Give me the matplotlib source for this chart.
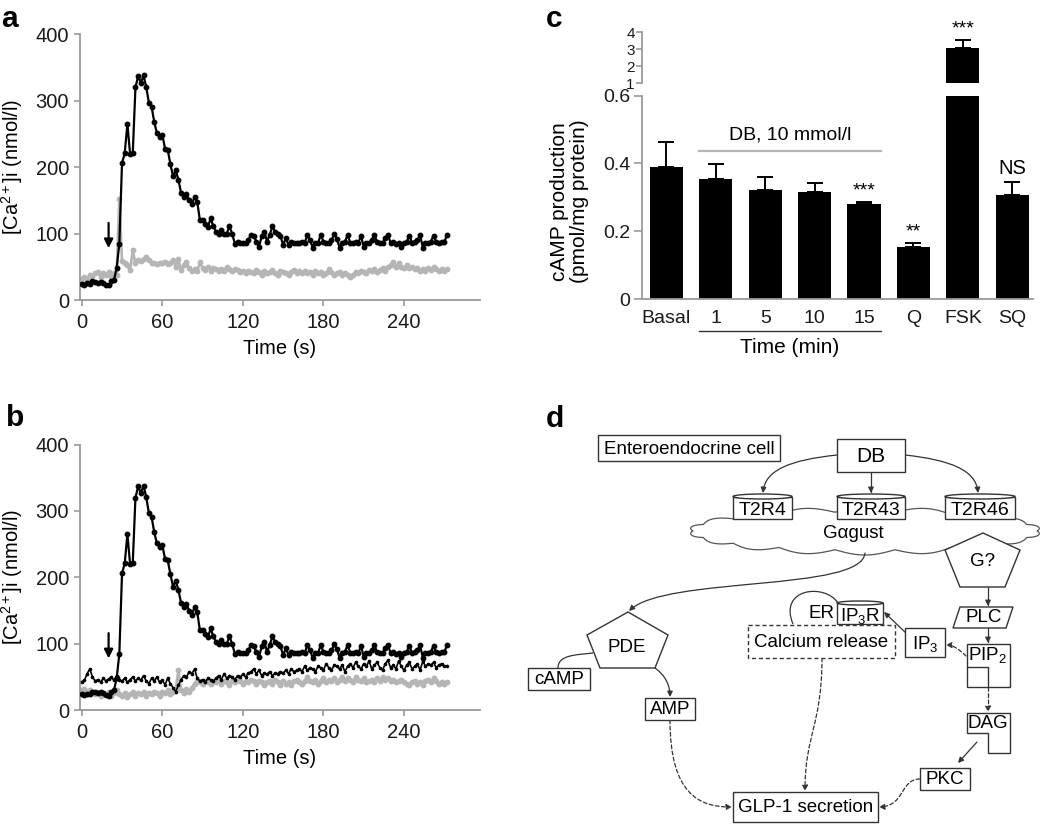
import numpy as np
import matplotlib
matplotlib.use("Agg")
import matplotlib.pyplot as plt
import matplotlib.transforms as mtransforms
from matplotlib.patches import Rectangle, Polygon, Ellipse, FancyArrowPatch, PathPatch
from matplotlib.path import Path

plt.rcParams['font.family'] = ['Liberation Sans', 'DejaVu Sans']
plt.rcParams['mathtext.fontset'] = 'custom'
plt.rcParams['mathtext.rm'] = 'Liberation Sans'
plt.rcParams['mathtext.it'] = 'Liberation Sans:italic'
plt.rcParams['mathtext.default'] = 'regular'

# ---- data: Ca2+ traces, sampled every 2 s ----
SAMPLE_S = 2
STIM_T = 20  # time DB was added (arrow)

ca_response = [24, 23, 25, 24, 28, 27, 26, 27, 26, 23,
               22, 28, 30, 48, 85, 206, 221, 265, 220, 222,
               320, 337, 327, 338, 321, 297, 291, 268, 251, 245,
               249, 228, 226, 205, 186, 195, 181, 161, 155, 160,
               150, 144, 155, 148, 120, 120, 115, 110, 123, 111,
               103, 100, 105, 99, 100, 111, 100, 85, 88, 86,
               86, 86, 90, 98, 97, 88, 80, 96, 103, 88,
               98, 111, 103, 100, 96, 83, 93, 83, 88, 86,
               86, 86, 88, 86, 98, 90, 79, 86, 86, 98,
               88, 86, 86, 90, 99, 92, 79, 86, 88, 98,
               86, 86, 88, 86, 97, 80, 86, 86, 90, 98,
               87, 86, 86, 94, 98, 86, 87, 85, 86, 80,
               86, 88, 97, 86, 88, 90, 98, 79, 86, 86,
               88, 97, 87, 86, 88, 87, 98]

ca_gray_a = [32, 35, 30, 38, 36, 40, 42, 35, 40, 38,
             42, 35, 40, 38, 152, 58, 55, 52, 45, 75,
             55, 60, 58, 62, 64, 60, 55, 56, 54, 55,
             55, 57, 54, 56, 60, 50, 61, 45, 52, 57,
             48, 44, 46, 43, 57, 48, 45, 50, 44, 48,
             46, 43, 47, 44, 50, 46, 44, 46, 45, 42,
             44, 40, 44, 42, 40, 45, 42, 38, 44, 40,
             42, 45, 40, 38, 44, 42, 40, 38, 42, 45,
             40, 43, 41, 44, 40, 42, 38, 44, 40, 42,
             38, 40, 46, 42, 38, 40, 42, 38, 40, 37,
             34, 38, 42, 40, 44, 42, 40, 45, 43, 46,
             42, 45, 48, 44, 50, 52, 57, 50, 55, 50,
             48, 52, 48, 50, 46, 48, 44, 47, 44, 48,
             45, 50, 47, 44, 46, 44, 47]

ca_thin_b = [43, 45, 55, 62, 50, 44, 46, 42, 48, 44,
             47, 50, 45, 52, 46, 44, 48, 42, 46, 50,
             44, 48, 45, 52, 44, 40, 48, 44, 50, 42,
             46, 38, 48, 40, 34, 28, 38, 46, 52, 50,
             58, 55, 62, 48, 44, 46, 42, 48, 46, 44,
             48, 52, 46, 55, 48, 52, 50, 46, 52, 50,
             54, 50, 56, 58, 62, 55, 60, 52, 56, 54,
             58, 52, 56, 55, 58, 56, 60, 55, 62, 58,
             60, 62, 58, 66, 60, 64, 62, 58, 66, 64,
             60, 70, 64, 60, 68, 66, 62, 68, 58, 66,
             70, 64, 72, 66, 62, 70, 66, 74, 62, 68,
             72, 64, 60, 70, 75, 64, 68, 62, 74, 66,
             60, 68, 72, 62, 66, 70, 60, 74, 66, 70,
             68, 72, 64, 68, 70, 66, 67]

ca_gray_b = [30, 32, 28, 30, 26, 24, 28, 22, 26, 24,
             28, 22, 26, 30, 24, 22, 26, 20, 24, 28,
             22, 26, 24, 28, 22, 26, 24, 28, 26, 22,
             28, 26, 30, 24, 28, 32, 60, 30, 26, 32,
             28, 34, 40, 44, 42, 40, 44, 42, 40, 44,
             42, 46, 40, 44, 42, 38, 44, 42, 46, 44,
             40, 44, 42, 46, 44, 40, 44, 42, 38, 42,
             44, 40, 46, 42, 38, 44, 40, 42, 38, 44,
             46, 42, 40, 44, 50, 44, 42, 46, 40, 44,
             48, 42, 46, 44, 48, 42, 46, 50, 44, 48,
             46, 42, 50, 46, 44, 48, 42, 44, 46, 42,
             48, 44, 50, 46, 48, 44, 46, 42, 44, 46,
             42, 40, 38, 42, 44, 40, 42, 38, 44, 46,
             42, 48, 44, 40, 42, 40, 42]

time_s = np.arange(len(ca_response)) * SAMPLE_S

# ---- data: cAMP bars ----
groups = ["Basal", "1", "5", "10", "15", "Q", "FSK", "SQ"]
camp_mean = [0.390, 0.355, 0.322, 0.317, 0.279, 0.153, 3.09, 0.307]
camp_sem = [0.074, 0.043, 0.039, 0.026, 0.008, 0.013, 0.46, 0.039]
camp_sig = ["", "", "", "", "***", "**", "***", "NS"]
db_groups = [1, 2, 3, 4]

W, H = 1050, 824
fig = plt.figure(figsize=(W / 100, H / 100), dpi=100)
AXC = '#9a9a9a'
GRAY = '#b5b5b5'


def px_axes(x0, y0, x1, y1):
    return fig.add_axes([x0 / W, 1 - y1 / H, (x1 - x0) / W, (y1 - y0) / H])


def style_axes(ax, size=14.5):
    for s in ['top', 'right']:
        ax.spines[s].set_visible(False)
    for s in ['left', 'bottom']:
        ax.spines[s].set_color(AXC)
        ax.spines[s].set_linewidth(1.3)
    ax.tick_params(colors=AXC, labelcolor='#1a1a1a', length=4, width=1.2,
                   labelsize=size, direction='out', pad=4)


def trace_panel(top, layers):
    ax = px_axes(80, top, 480, top + 265.7)
    for vals, kw in layers:
        ax.plot(time_s, vals, **kw)
    ax.set_xlim(-1.3, 296.6)
    ax.set_ylim(0, 400)
    ax.set_xticks([0, 60, 120, 180, 240])
    ax.set_yticks([0, 100, 200, 300, 400])
    style_axes(ax)
    ax.tick_params(axis='x', pad=5)
    ax.set_xlabel("Time (s)", fontsize=14.5)
    ax.xaxis.set_label_coords(0.5, -0.145)
    ax.set_ylabel(r"[Ca$^{2+}$]i (nmol/l)", fontsize=14.5)
    ax.yaxis.set_label_coords(-0.138, 0.5)
    ax.annotate('', xy=(STIM_T, 78), xytext=(STIM_T, 116),
                arrowprops=dict(arrowstyle='-|>', color='black', lw=1.6,
                                mutation_scale=13, shrinkA=0, shrinkB=0))
    return ax


black_kw = dict(color='black', lw=1.6, marker='o', ms=3.2, zorder=4)
gray_kw = dict(color=GRAY, lw=1.9, marker='o', ms=3.2, mec=GRAY, zorder=2)
thin_kw = dict(color='black', lw=1.2, marker='.', ms=3.2, zorder=3)

ax_a = trace_panel(34.3, [(ca_gray_a, gray_kw), (ca_response, black_kw)])
ax_b = trace_panel(444.5, [(ca_gray_b, gray_kw), (ca_thin_b, thin_kw),
                           (ca_response, black_kw)])

# ---- panel c: broken y axis ----
x = np.arange(len(groups))
bw = 0.67
lo = px_axes(641.7, 95.7, 1033, 299)
hi = px_axes(641.7, 32.3, 1033, 83.3)
for ax in (lo, hi):
    ax.bar(x, camp_mean, width=bw, color='black', zorder=2)
    ax.errorbar(x, camp_mean, yerr=[np.zeros(len(x)), camp_sem], fmt='none',
                ecolor='black', elinewidth=1.4, capsize=6, capthick=1.4, zorder=1)
    ax.set_xlim(-0.5, 7.42)
    style_axes(ax, 14)
lo.set_ylim(0, 0.6)
lo.set_yticks([0, 0.2, 0.4, 0.6])
lo.set_yticklabels(['0', '0.2', '0.4', '0.6'])
lo.tick_params(axis='y', length=6, pad=2)
lo.set_xticks(x)
lo.set_xticklabels(groups)
lo.tick_params(axis='x', length=0, pad=8)
hi.set_ylim(1, 4)
hi.set_yticks([1, 2, 3, 4])
hi.tick_params(axis='y', length=4, pad=1, labelsize=11)
hi.spines['bottom'].set_visible(False)
hi.set_xticks([])
lo.set_ylabel("cAMP production\n(pmol/mg protein)", fontsize=15, linespacing=1.05)
lo.yaxis.set_label_coords(-0.135, 0.48)

for i, lab in enumerate(camp_sig):
    if not lab:
        continue
    ax = hi if camp_mean[i] > 0.6 else lo
    star = lab.startswith('*')
    ax.annotate(lab, xy=(x[i], camp_mean[i] + camp_sem[i]), xytext=(0, 1.5 if star else 3),
                textcoords='offset points', ha='center', va='bottom',
                fontsize=14 if star else 14.5, annotation_clip=False)

x_left = db_groups[0] - bw / 2
x_right = db_groups[-1] + bw / 2
lo.plot([x_left, x_right], [0.438, 0.438], color=GRAY, lw=1.6)
lo.text((x_left + x_right) / 2, 0.458, "DB, 10 mmol/l", ha='center', va='bottom', fontsize=14)
trans = mtransforms.blended_transform_factory(lo.transData, lo.transAxes)
lo.plot([x_left, x_right], [-0.156, -0.156], color='#333333', lw=1.0,
        transform=trans, clip_on=False)
lo.text((x_left + x_right) / 2, -0.19, "Time (min)", ha='center', va='top',
        fontsize=15, transform=trans)

# ---- canvas for panel letters and diagram (pixel coordinates) ----
cv = fig.add_axes([0, 0, 1, 1])
cv.set_xlim(0, W)
cv.set_ylim(H, 0)
cv.axis('off')

for lab, (px, py) in {"a": (1, 27), "b": (6, 426), "c": (546, 27), "d": (546, 427)}.items():
    cv.text(px, py, lab, fontsize=21.5, fontweight='bold', va='baseline', ha='left')

EC = '#333333'
FS = 13.5


def box(x0, y0, x1, y1, label, ls='-', fs=FS):
    cv.add_patch(Rectangle((x0, y0), x1 - x0, y1 - y0, fc='white', ec=EC, lw=1.0,
                           ls=ls, zorder=5))
    if label:
        cv.text((x0 + x1) / 2, (y0 + y1) / 2 + 1, label, ha='center', va='center',
                fontsize=fs, zorder=6)


def cylinder(x0, y0, x1, y1, label, e=5, fs=FS):
    cv.add_patch(Rectangle((x0, y0 + e / 2), x1 - x0, y1 - y0 - e / 2, fc='white',
                           ec=EC, lw=1.0, zorder=5))
    cv.add_patch(Ellipse(((x0 + x1) / 2, y0 + e / 2), x1 - x0, e, fc='white',
                         ec=EC, lw=1.0, zorder=5))
    cv.text((x0 + x1) / 2, (y0 + e + y1) / 2 + 1.5, label, ha='center', va='center',
            fontsize=fs, zorder=6)


def poly(pts, label, tx, ty):
    cv.add_patch(Polygon(pts, closed=True, fc='white', ec=EC, lw=1.0, zorder=5))
    cv.text(tx, ty, label, ha='center', va='center', fontsize=FS, zorder=6)


def link(pts, dashed=False, head=True):
    if len(pts) == 2:
        path = Path(pts, [Path.MOVETO, Path.LINETO])
    else:
        path = Path(pts, [Path.MOVETO, Path.CURVE4, Path.CURVE4, Path.CURVE4])
    ls = (0, (3, 2)) if dashed else '-'
    if head:
        cv.add_patch(FancyArrowPatch(path=path, arrowstyle='-|>', mutation_scale=8,
                                     color=EC, lw=0.9, ls=ls, zorder=4))
    else:
        cv.add_patch(PathPatch(path, fc='none', ec=EC, lw=0.9, ls=ls, zorder=4))


# cloud (G alpha gustducin)
t = np.linspace(0, 2 * np.pi, 600)
bump = np.abs(np.sin(9 * t))
cx = 865 + (172 + 4 * bump) * np.cos(t)
cy = 531 + (19 + 5 * bump) * np.sin(t)
cv.add_patch(Polygon(np.column_stack([cx, cy]), closed=True, fc='white', ec='#555555',
                     lw=0.9, zorder=3))
cv.text(853, 533, "G\u03b1gust", ha='center', va='center', fontsize=FS, zorder=6)

box(598, 435, 780, 461, "Enteroendocrine cell")
box(837, 439, 905, 472, "DB", fs=15)
cylinder(733, 494, 792, 519, "T2R4", fs=14)
cylinder(837, 494, 905, 519, "T2R43", fs=14)
cylinder(945, 494, 1015, 519, "T2R46", fs=14)
poly([(983, 533), (1020, 550), (1005, 587), (960, 587), (945, 550)], "G?", 983, 562)
poly([(953, 628), (960, 607), (1013, 607), (1006, 628)], "PLC", 984, 618)

# PIP2 membrane shape
cv.add_patch(Rectangle((967, 644), 43, 43, fc='white', ec=EC, lw=1.0, zorder=5))
cv.plot([967, 988, 988], [667, 667, 687], color=EC, lw=1.0, zorder=6)
cv.text(988, 655, "PIP$_2$", ha='center', va='center', fontsize=FS, zorder=6)
# DAG shape
poly([(967, 713), (1010, 713), (1010, 753), (988, 753), (988, 733), (967, 733)],
     "DAG", 988, 724)

box(905, 628, 945, 657, "IP$_3$")
cylinder(837, 601, 883, 624, "IP$_3$R", e=4)
cv.text(835, 614, "ER", ha='right', va='center', fontsize=FS, zorder=6)
box(748, 625, 895, 658, "Calcium release", ls=(0, (3, 2)))
box(920, 768, 970, 790, "PKC")
box(733, 792, 878, 822, "GLP-1 secretion")
poly([(628, 612), (668, 635), (655, 668), (600, 668), (587, 635)], "PDE", 627, 647)
box(528, 668, 590, 690, "cAMP")
box(645, 698, 695, 720, "AMP")

# connections
link([(837, 455), (790, 460), (765, 470), (763, 493)])
link([(871, 472), (871, 493)])
link([(905, 455), (950, 460), (976, 470), (978, 493)])
link([(865, 553), (862, 592), (665, 576), (629, 611)])
link([(988, 587), (988, 606)])
link([(988, 628), (988, 643)])
link([(966, 656), (958, 648), (952, 645), (946, 645)], dashed=True)
link([(907, 634), (884, 612)])
link([(988, 687), (988, 712)], dashed=True)
link([(977, 742), (958, 763)])
link([(920, 779), (900, 779), (905, 806), (879, 807)], dashed=True)
link([(670, 720), (670, 795), (700, 807), (732, 807)], dashed=True)
link([(822, 658), (822, 725), (805, 735), (805, 791)], dashed=True)
link([(655, 668), (665, 675), (670, 685), (670, 697)])
link([(558, 668), (558, 655), (575, 655), (593, 653)], head=False)
link([(838, 603), (825, 583), (778, 588), (793, 624)], head=False)

fig.savefig("out.png", dpi=100)
